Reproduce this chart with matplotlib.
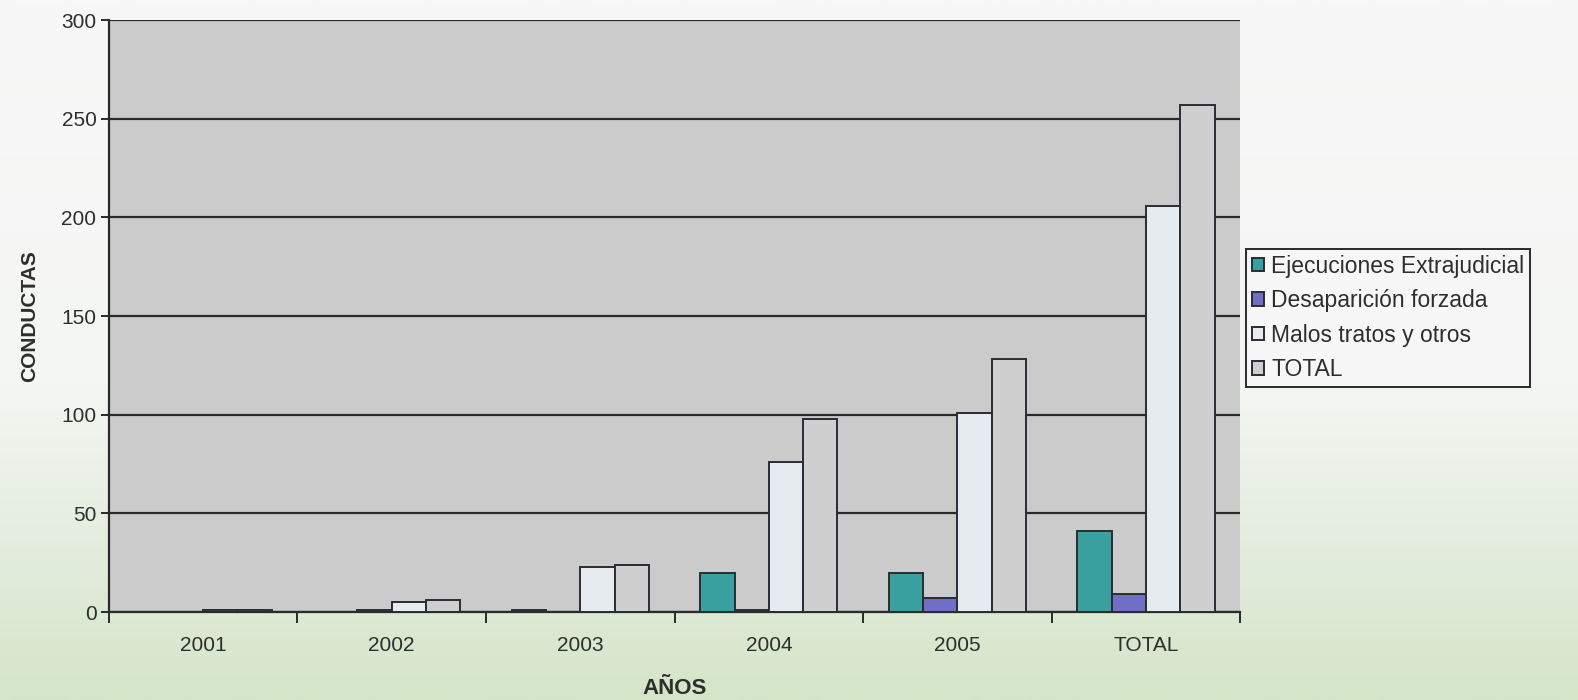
import numpy as np
import matplotlib
matplotlib.use("Agg")
import matplotlib.pyplot as plt
from matplotlib.colors import LinearSegmentedColormap

plt.rcParams['font.family'] = ['Liberation Sans', 'DejaVu Sans']

categories = ["2001", "2002", "2003", "2004", "2005", "TOTAL"]
series_names = ["Ejecuciones Extrajudicial", "Desaparición forzada",
                "Malos tratos y otros", "TOTAL"]
ejecuciones = [0, 0, 1, 20, 20, 41]
desaparicion = [0, 1, 0, 1, 7, 9]
malos_tratos = [1, 5, 23, 76, 101, 206]
total = [1, 6, 24, 98, 128, 257]
y_ticks = [0, 50, 100, 150, 200, 250, 300]

series = [ejecuciones, desaparicion, malos_tratos, total]
colors = ["#3a9f9f", "#6f6fc6", "#e6ebef", "#cfcfcf"]
text_col = "#2e2e2e"

fig = plt.figure(figsize=(15.78, 7.0), dpi=100)

# page background: near-white on top fading to pale green at the bottom
bg = fig.add_axes([0, 0, 1, 1], zorder=-10)
grad = np.linspace(0, 1, 400).reshape(-1, 1)
cmap = LinearSegmentedColormap.from_list(
    "page", [(0.0, "#f8f8f8"), (0.55, "#f4f6f3"), (0.8, "#e2ecdc"), (1.0, "#d4e5c8")])
bg.imshow(grad, aspect="auto", cmap=cmap, extent=[0, 1, 0, 1], origin="upper")
bg.set_axis_off()

ax = fig.add_axes([0.069, 0.1257, 0.717, 0.8457])
ax.set_facecolor("#cbcbcb")

n = len(series)
group_w = 4 / 5.5
bar_w = group_w / n
x = np.arange(len(categories))
for i, (vals, col, name) in enumerate(zip(series, colors, series_names)):
    offs = -group_w / 2 + bar_w * (i + 0.5)
    ax.bar(x + offs, vals, width=bar_w, color=col, edgecolor="#2b2b33",
           linewidth=1.4, label=name, zorder=3)

ax.set_xlim(-0.5, len(categories) - 0.5)
ax.set_ylim(0, 300)
ax.set_yticks(y_ticks)
ax.set_yticklabels([str(v) for v in y_ticks], fontsize=15, color=text_col)
ax.yaxis.grid(True, color="#2a2a2a", linewidth=1.6, zorder=1)
ax.set_axisbelow(True)

ax.set_xticks(x)
ax.set_xticklabels(categories, fontsize=15, color=text_col)
ax.set_xticks(np.arange(len(categories) + 1) - 0.5, minor=True)
ax.tick_params(axis="x", which="major", length=0, pad=17)
ax.tick_params(axis="x", which="minor", length=8, width=1.4, color="#2a2a2a")
ax.tick_params(axis="y", length=6, width=1.4, color="#2a2a2a", pad=3)

for side in ["top", "right"]:
    ax.spines[side].set_visible(False)
for side in ["left", "bottom"]:
    ax.spines[side].set_color("#2a2a2a")
    ax.spines[side].set_linewidth(1.6)

ax.set_ylabel("CONDUCTAS", fontsize=15, fontweight="bold", color=text_col, labelpad=16)
ax.set_xlabel("AÑOS", fontsize=16, fontweight="bold", color=text_col, labelpad=17)

leg = ax.legend(loc="center left", bbox_to_anchor=(1.005, 0.497), fontsize=16.5,
                frameon=True, fancybox=False, edgecolor="#2a2a2a",
                facecolor="#f6f7f6", framealpha=1, handlelength=0.55,
                handleheight=0.55, handletextpad=0.3, labelspacing=0.5,
                borderpad=0.25, borderaxespad=0)
leg.get_frame().set_linewidth(1.4)
for t in leg.get_texts():
    t.set_color(text_col)

fig.savefig("out.png", dpi=100)
